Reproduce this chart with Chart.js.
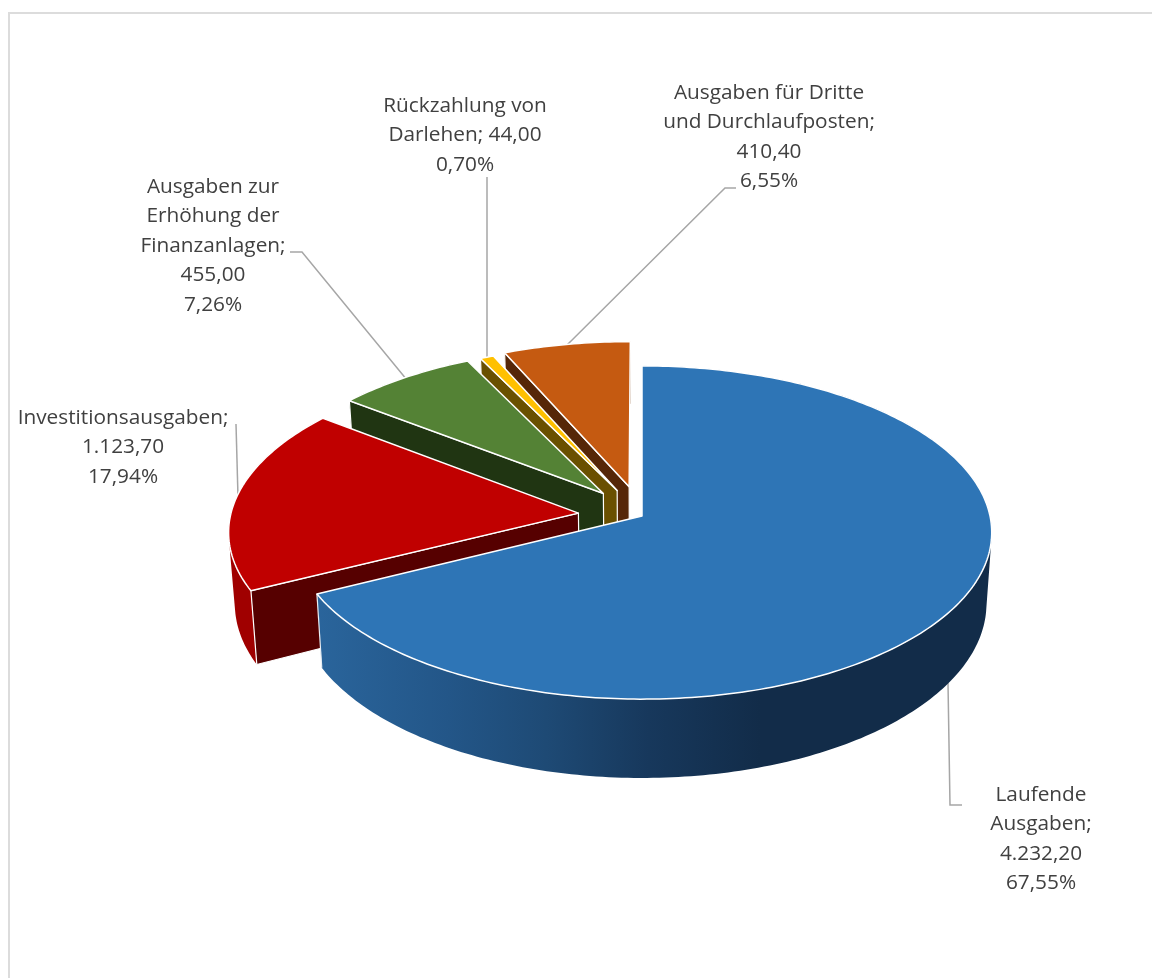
<!DOCTYPE html>
<html lang="de">
<head>
<meta charset="utf-8">
<title>Ausgaben</title>
<script src="https://cdn.jsdelivr.net/npm/chart.js@4"></script>
<style>
  html, body { margin: 0; background: #fff; }
  #wrap { position: relative; width: 1152px; height: 978px; overflow: hidden; }
  #frame { position: absolute; left: 8px; top: 12px; width: 1200px; height: 1000px; border: 2px solid #dcdcdc; }
  canvas { position: absolute; left: 0; top: 0; }
</style>
</head>
<body>
<div id="wrap">
  <div id="frame"></div>
  <canvas id="pie" width="1152" height="978"></canvas>
</div>
<script>
const categories = ['Laufende Ausgaben', 'Investitionsausgaben', 'Ausgaben zur Erhöhung der Finanzanlagen', 'Rückzahlung von Darlehen', 'Ausgaben für Dritte und Durchlaufposten'];
const values = [4232.20, 1123.70, 455.00, 44.00, 410.40];

const labelLines = [
  ['Laufende', 'Ausgaben;', '4.232,20', '67,55%'],
  ['Investitionsausgaben;', '1.123,70', '17,94%'],
  ['Ausgaben zur', 'Erhöhung der', 'Finanzanlagen;', '455,00', '7,26%'],
  ['Rückzahlung von', 'Darlehen; 44,00', '0,70%'],
  ['Ausgaben für Dritte', 'und Durchlaufposten;', '410,40', '6,55%']
];

// label block position: centre x, first baseline
const labelPos = [[1041, 801], [123, 424], [213, 193], [465, 112], [769, 99]];
const leaders = [
  [[948, 683], [950, 805], [962, 805]],
  [[236, 424], [238, 497]],
  [[290, 252], [302, 252], [407, 380]],
  [[487, 177], [487, 360]],
  [[736, 188], [725, 188], [566, 346]]
];

const topColors = ['#2e75b6', '#c00000', '#548235', '#ffc000', '#c55a11'];
const cutColors = ['#132d49', '#560000', '#203512', '#6a5000', '#562708'];
const wallColors = ['#132d49', '#a00000', '#2e4a1c', '#8a6a00', '#7a3a0a'];
const offsets = [0, 64, 62, 60, 64];

// tilted disc: far side is foreshortened more than the near side
const TILT = 0.099, SCALE_Y = 165 / 348;
const FLOOR_SHRINK = 0.985, FLOOR_DROP = 71, FLOOR_SLOPE = 0.047, FLOOR_MID = 533;

function sliceGeometry(arc) {
  const R = arc.outerRadius;
  const mid = (arc.startAngle + arc.endAngle) / 2;
  const off = arc.options.offset / R;
  const du = Math.cos(mid) * off, dv = -Math.sin(mid) * off;
  const top = (u, v) => {
    const w = 1 + TILT * v;
    return [arc.x + R * u / w, arc.y - R * SCALE_Y * v / w];
  };
  const floor = p => [
    arc.x + (p[0] - arc.x) * FLOOR_SHRINK,
    p[1] + FLOOR_DROP + FLOOR_SLOPE * (p[1] - FLOOR_MID)
  ];
  const rim = [];
  const steps = Math.max(4, Math.ceil((arc.endAngle - arc.startAngle) * 60));
  for (let i = 0; i <= steps; i++) {
    const a = arc.startAngle + (arc.endAngle - arc.startAngle) * i / steps;
    rim.push(top(Math.cos(a) + du, -Math.sin(a) + dv));
  }
  return { apex: top(du, dv), rim, floor };
}

function trace(ctx, pts) {
  ctx.beginPath();
  addPoly(ctx, pts);
}

function addPoly(ctx, pts) {
  pts.forEach((p, i) => i ? ctx.lineTo(p[0], p[1]) : ctx.moveTo(p[0], p[1]));
  ctx.closePath();
}

// quads of one wall share a path with the same winding, which leaves no seams
function addWallQuad(ctx, quad) {
  let area = 0;
  quad.forEach((p, i) => {
    const q = quad[(i + 1) % quad.length];
    area += p[0] * q[1] - q[0] * p[1];
  });
  addPoly(ctx, area < 0 ? quad.slice().reverse() : quad);
}

function blueWall(ctx) {
  const g = ctx.createLinearGradient(314, 0, 760, 0);
  g.addColorStop(0, '#2a659c');
  g.addColorStop(0.3, '#235688');
  g.addColorStop(0.52, '#1e4a75');
  g.addColorStop(0.75, '#17385c');
  g.addColorStop(1, '#122c49');
  return g;
}

const pie3d = {
  id: 'pie3d',
  beforeDatasetsDraw(chart) {
    const ctx = chart.ctx;
    const arcs = chart.getDatasetMeta(0).data;
    ctx.save();

    // leader lines sit behind the slices
    ctx.strokeStyle = '#a6a6a6';
    ctx.lineWidth = 1.5;
    leaders.forEach(line => {
      ctx.beginPath();
      line.forEach((p, i) => i ? ctx.lineTo(p[0], p[1]) : ctx.moveTo(p[0], p[1]));
      ctx.stroke();
    });

    // back to front, the big slice last
    ctx.lineJoin = 'round';
    for (let i = arcs.length - 1; i >= 0; i--) {
      const { apex, rim, floor } = sliceGeometry(arcs[i]);

      ctx.fillStyle = i === 0 ? blueWall(ctx) : wallColors[i];
      ctx.beginPath();
      for (let k = 0; k < rim.length - 1; k++) {
        addWallQuad(ctx, [rim[k], rim[k + 1], floor(rim[k + 1]), floor(rim[k])]);
      }
      ctx.fill();

      if (i > 0) {
        // cut face on the leading edge of the slice
        trace(ctx, [apex, rim[0], floor(rim[0]), floor(apex)]);
        ctx.fillStyle = cutColors[i];
        ctx.fill();
        ctx.strokeStyle = '#fff';
        ctx.lineWidth = 1.2;
        ctx.stroke();
      } else {
        const last = rim[rim.length - 1];
        const lowLast = floor(last);
        ctx.beginPath();
        ctx.moveTo(last[0], last[1]);
        ctx.lineTo(lowLast[0], lowLast[1]);
        ctx.strokeStyle = '#e8eef4';
        ctx.lineWidth = 1.2;
        ctx.stroke();
      }

      trace(ctx, [apex].concat(rim));
      ctx.fillStyle = topColors[i];
      ctx.fill();
      ctx.strokeStyle = '#fff';
      ctx.lineWidth = 1.5;
      ctx.stroke();
    }

    ctx.fillStyle = '#404040';
    ctx.font = '20.8px "Open Sans"';
    ctx.textAlign = 'center';
    ctx.textBaseline = 'alphabetic';
    labelLines.forEach((lines, i) => {
      lines.forEach((t, n) => ctx.fillText(t, labelPos[i][0], labelPos[i][1] + n * 29.4));
    });
    ctx.restore();
    return false;
  }
};

new Chart(document.getElementById('pie'), {
  type: 'pie',
  data: {
    labels: categories,
    datasets: [{ data: values, backgroundColor: topColors, offset: offsets, borderWidth: 0 }]
  },
  options: {
    responsive: false,
    animation: false,
    radius: 348,
    layout: { padding: { left: 132, top: 54 } },
    plugins: { legend: { display: false }, tooltip: { enabled: false } }
  },
  plugins: [pie3d]
});
</script>
</body>
</html>
